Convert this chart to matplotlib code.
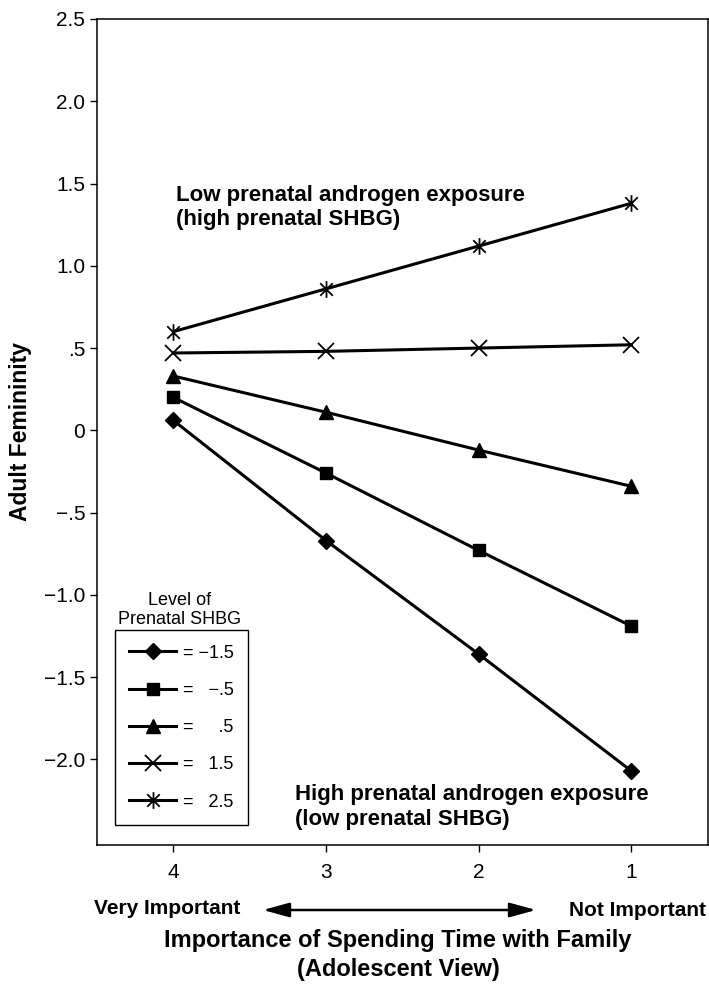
import numpy as np
import matplotlib
matplotlib.use("Agg")
import matplotlib.pyplot as plt
from matplotlib.path import Path
from matplotlib.patches import FancyArrowPatch

# importance of spending time with family (4 = very important, 1 = not important)
importance = [4, 3, 2, 1]

# adult femininity per level of prenatal SHBG
shbg_levels = ["\u22121.5", "\u2212.5", ".5", "1.5", "2.5"]
fem_m15 = [0.06, -0.67, -1.36, -2.07]
fem_m05 = [0.20, -0.26, -0.73, -1.19]
fem_p05 = [0.33, 0.11, -0.12, -0.34]
fem_p15 = [0.47, 0.48, 0.50, 0.52]
fem_p25 = [0.60, 0.86, 1.12, 1.38]

y_ticks = [-2.0, -1.5, -1.0, -0.5, 0, 0.5, 1.0, 1.5, 2.0, 2.5]
y_tick_labels = ["\u22122.0", "\u22121.5", "\u22121.0", "\u2212.5", "0", ".5", "1.0", "1.5", "2.0", "2.5"]

plt.rcParams["font.family"] = ["Liberation Sans", "DejaVu Sans"]


def asterisk_marker():
    # X with a vertical bar through it
    verts = [(0, -1), (0, 1), (-0.75, -0.75), (0.75, 0.75), (-0.75, 0.75), (0.75, -0.75)]
    codes = [Path.MOVETO, Path.LINETO, Path.MOVETO, Path.LINETO, Path.MOVETO, Path.LINETO]
    return Path(verts, codes)


def legend_label(level):
    # pad with spaces so the numbers line up on the right
    pad = {"\u22121.5": " ", "\u2212.5": "   ", ".5": "     ", "1.5": "   ", "2.5": "   "}
    return "=" + pad[level] + level


def main():
    fig = plt.figure(figsize=(7.09, 9.84), dpi=100)
    ax = fig.add_axes([0.137, 0.1413, 0.861, 0.8394])

    series = [fem_m15, fem_m05, fem_p05, fem_p15, fem_p25]
    markers = ["D", "s", "^", "x", asterisk_marker()]
    sizes = [8.5, 8, 10, 11, 12]
    mews = [1, 1, 1, 1.3, 1.3]
    for vals, mk, ms, mw, lev in zip(series, markers, sizes, mews, shbg_levels):
        ax.plot(importance, vals, color="black", lw=2.2, marker=mk, ms=ms, mew=mw,
                label=legend_label(lev))

    ax.set_xlim(4.5, 0.5)
    ax.set_ylim(-2.52, 2.5)
    ax.set_xticks(importance)
    ax.set_xticklabels([str(v) for v in importance], fontsize=15)
    ax.set_yticks(y_ticks)
    ax.set_yticklabels(y_tick_labels, fontsize=15)
    ax.tick_params(direction="out", length=5, width=1)
    ax.tick_params(axis="x", pad=8)
    for sp in ax.spines.values():
        sp.set_linewidth(1.1)

    ax.set_ylabel("Adult Femininity", fontsize=16.5, fontweight="bold")
    ax.yaxis.set_label_coords(-0.107, 0.5)

    ax.text(3.985, 1.355, "Low prenatal androgen exposure\n(high prenatal SHBG)",
            fontsize=16, fontweight="bold", ha="left", va="center", linespacing=1.22)
    ax.text(3.202, -2.29, "High prenatal androgen exposure\n(low prenatal SHBG)",
            fontsize=16, fontweight="bold", ha="left", va="center", linespacing=1.22)

    leg = ax.legend(loc="lower left", bbox_to_anchor=(0.029, 0.024), borderaxespad=0,
                    fontsize=13, handlelength=2.6, handletextpad=0.35, labelspacing=1.12,
                    fancybox=False, framealpha=1, edgecolor="black", borderpad=0.8)
    leg.get_frame().set_linewidth(1)
    # the legend heading sits above the box
    fig.text(180 / 709, 1 - 610 / 984, "Level of\nPrenatal SHBG", fontsize=13,
             ha="center", va="center", multialignment="center", linespacing=1.2)

    # axis description under the ticks
    fig.text(94 / 709, 1 - 909 / 984, "Very Important", fontsize=15, fontweight="bold",
             ha="left", va="center")
    fig.text(706 / 709, 1 - 911 / 984, "Not Important", fontsize=15, fontweight="bold",
             ha="right", va="center")
    arrow = FancyArrowPatch((263 / 709, 1 - 910 / 984), (536 / 709, 1 - 910 / 984),
                            transform=fig.transFigure,
                            arrowstyle="<|-|>,head_length=0.8,head_width=0.22",
                            mutation_scale=20, color="black", lw=1.8,
                            shrinkA=0, shrinkB=0)
    fig.patches.append(arrow)
    fig.text(398 / 709, 1 - 955 / 984, "Importance of Spending Time with Family\n(Adolescent View)",
             fontsize=17, fontweight="bold", ha="center", va="center", linespacing=1.35)

    fig.savefig("out.png", dpi=100)


if __name__ == "__main__":
    main()
